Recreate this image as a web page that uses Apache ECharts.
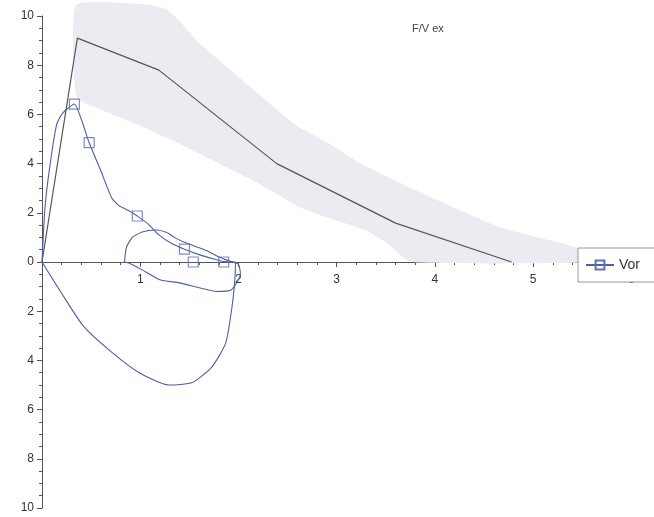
<!DOCTYPE html>
<html>
<head>
<meta charset="utf-8">
<script src="https://cdn.jsdelivr.net/npm/echarts@6/dist/echarts.min.js"></script>
<style>
  html, body { margin: 0; padding: 0; background: #fff; }
  #chart { width: 654px; height: 517px; }
</style>
</head>
<body>
<div id="chart"></div>
<script>
// Flow-volume loop: volume (l) on x, flow (l/s) on y, expiration above zero.
const chartTitle = 'F/V ex';
const seriesName = 'Vor';

// Predicted normal range band: upper edge (left to right), lower edge (right to left)
const bandUpper = [[0.35, 10.45], [1.1, 10.45], [1.25, 10.3], [1.4, 9.8], [1.6, 8.9], [1.95, 7.7], [2.27, 6.6],
  [2.61, 5.5], [2.91, 4.85], [3.29, 3.9], [3.95, 2.65], [4.63, 1.45], [5.0, 1.05], [5.31, 0.75], [5.64, 0.3], [5.85, 0]];
const bandLower = [[3.75, 0], [3.5, 0.8], [3.29, 1.3], [2.95, 1.75], [2.61, 2.25], [2.27, 3.05], [1.85, 3.9],
  [1.47, 4.67], [1.02, 5.5], [0.6, 6.2], [0.35, 6.7]];

// Predicted expiratory curve
const predicted = [[0, 0], [0.36, 9.1], [1.19, 7.8], [2.39, 4.0], [3.6, 1.58], [4.78, 0]];

// Measured loop: forced expiration followed by inspiration back to the start
const measuredLoop = [[0, 0], [0.03, 2.2], [0.08, 3.9], [0.15, 5.6], [0.21, 6.05], [0.33, 6.42],
  [0.4, 5.8], [0.48, 4.85], [0.6, 3.7], [0.71, 2.6], [0.78, 2.3], [0.9, 2.05], [0.97, 1.87],
  [1.08, 1.55], [1.19, 1.1], [1.32, 0.75], [1.45, 0.52], [1.6, 0.3], [1.75, 0.12], [1.85, 0.02], [1.97, 0],
  [1.96, -0.9], [1.93, -1.95], [1.87, -3.3], [1.73, -4.26], [1.53, -4.9], [1.29, -5.0], [0.99, -4.5],
  [0.69, -3.6], [0.42, -2.6], [0.18, -1.15], [0, 0]];

// Second, shallower loop
const secondLoop = [[0.84, 0], [0.86, 0.6], [0.92, 1.0], [1.02, 1.22], [1.16, 1.3], [1.27, 1.2],
  [1.36, 0.97], [1.47, 0.77], [1.6, 0.58], [1.7, 0.42], [1.8, 0.2], [1.9, 0.05], [2.0, -0.1],
  [2.02, -0.5], [1.92, -1.15], [1.78, -1.2], [1.6, -1.05], [1.4, -0.85], [1.2, -0.72], [1.02, -0.32],
  [0.89, -0.05], [0.84, 0]];

// Marked parameters on the measured curve
const markers = [[0.33, 6.42], [0.48, 4.85], [0.97, 1.87], [1.45, 0.52], [1.54, 0], [1.85, 0]];

const blue = '#4d5f9e';
const markerBlue = '#5d6fb8';
const gray = '#555555';
const font = 'Liberation Sans, Arial, sans-serif';

const bandPolygon = bandUpper.concat(bandLower);

const chart = echarts.init(document.getElementById('chart'), null, { renderer: 'canvas' });

const gridTop = 16;
const gridHeight = 492;

chart.setOption({
  animation: false,
  backgroundColor: '#ffffff',
  title: {
    text: chartTitle,
    left: 407,
    top: 18,
    textStyle: { fontFamily: font, fontSize: 11, fontWeight: 'normal', color: '#444' }
  },
  legend: {
    data: [seriesName],
    orient: 'vertical',
    left: 578,
    top: 248,
    padding: [10, 40, 10, 7],
    itemWidth: 28,
    itemHeight: 11,
    backgroundColor: '#ffffff',
    borderColor: '#999',
    borderWidth: 1,
    textStyle: { fontFamily: font, fontSize: 14, color: '#333' },
    z: 10
  },
  grid: { left: 42, top: gridTop, width: 613, height: gridHeight, containLabel: false },
  xAxis: {
    type: 'value',
    min: 0,
    max: 6.2,
    interval: 1,
    // the volume axis runs through zero flow, halfway up the plot
    offset: -gridHeight / 2,
    axisLine: { onZero: false, lineStyle: { color: gray, width: 1 } },
    axisTick: { show: true, length: 5, lineStyle: { color: gray } },
    minorTick: { show: true, splitNumber: 5, length: 3, lineStyle: { color: gray } },
    splitLine: { show: false },
    axisLabel: {
      margin: 12,
      color: '#333',
      fontFamily: font,
      fontSize: 12,
      formatter: v => (v === 0 || Math.round(v) !== v) ? '' : String(v)
    }
  },
  yAxis: {
    type: 'value',
    min: -10,
    max: 10,
    interval: 2,
    axisLine: { show: true, onZero: true, lineStyle: { color: gray, width: 1 } },
    axisTick: { show: true, length: 5, lineStyle: { color: gray } },
    minorTick: { show: true, splitNumber: 4, length: 3, lineStyle: { color: gray } },
    splitLine: { show: false },
    axisLabel: {
      margin: 8,
      color: '#333',
      fontFamily: font,
      fontSize: 12,
      formatter: v => String(Math.abs(v))
    }
  },
  series: [
    {
      name: 'normal range',
      type: 'custom',
      clip: false,
      z: 1,
      silent: true,
      data: [0],
      renderItem: (params, api) => ({
        type: 'polygon',
        shape: { points: bandPolygon.map(p => api.coord(p)), smooth: 0.15 },
        style: { fill: '#ebebf2', stroke: null }
      })
    },
    {
      name: 'predicted',
      type: 'line',
      z: 3,
      data: predicted,
      showSymbol: false,
      symbol: 'none',
      lineStyle: { color: gray, width: 1.2 }
    },
    {
      name: seriesName,
      type: 'line',
      z: 4,
      data: measuredLoop,
      smooth: 0.2,
      symbol: 'rect',
      symbolSize: 10,
      showSymbol: false,
      itemStyle: { color: 'rgba(255,255,255,0)', borderColor: markerBlue, borderWidth: 1.2 },
      lineStyle: { color: blue, width: 1.1 }
    },
    {
      name: seriesName,
      type: 'line',
      z: 4,
      data: secondLoop,
      smooth: 0.2,
      symbol: 'none',
      showSymbol: false,
      lineStyle: { color: blue, width: 1.1 }
    },
    {
      name: seriesName,
      type: 'scatter',
      z: 5,
      data: markers,
      symbol: 'rect',
      symbolSize: 10,
      itemStyle: { color: 'rgba(255,255,255,0)', borderColor: markerBlue, borderWidth: 1.2 }
    }
  ]
});
</script>
</body>
</html>
